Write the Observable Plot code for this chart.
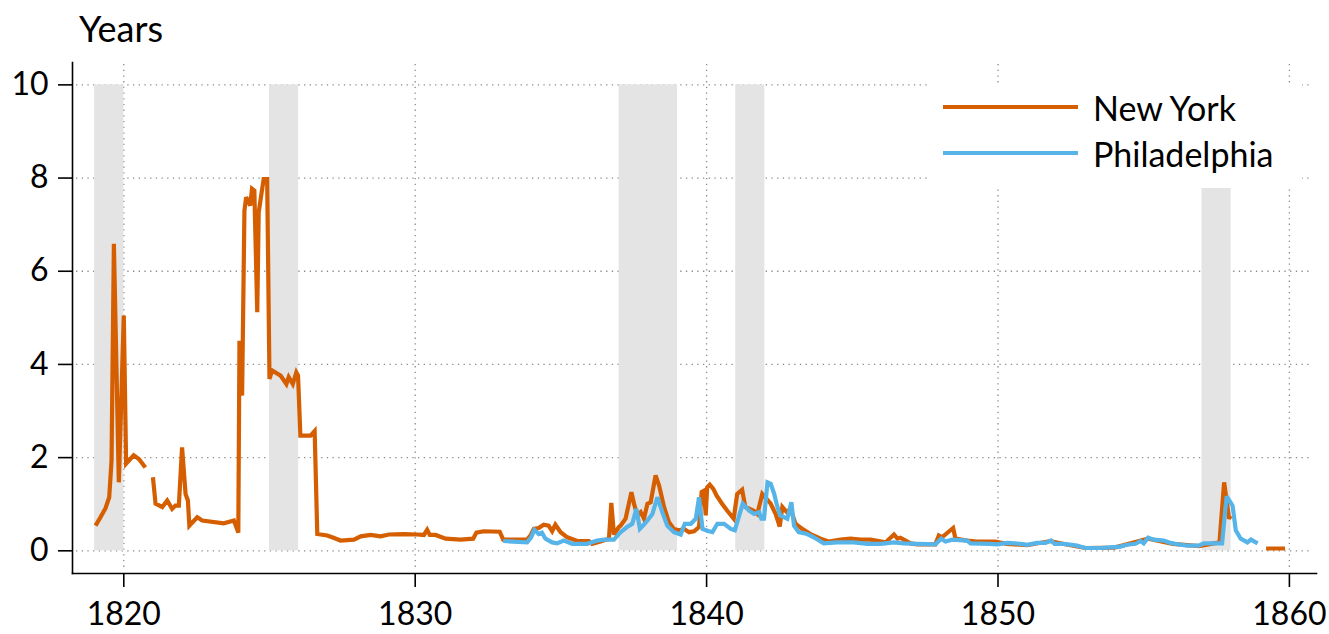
<!DOCTYPE html>
<html>
<head>
<meta charset="utf-8">
<script src="https://cdn.jsdelivr.net/npm/d3@7"></script>
<script src="https://cdn.jsdelivr.net/npm/@observablehq/plot@0.6"></script>
<style>
  html, body { margin: 0; padding: 0; background: #fff; }
  #wrap { position: relative; width: 1329px; height: 634px; font-family: Lato, "DejaVu Sans", sans-serif; color: #000; }
  #title { position: absolute; left: 79px; top: 7px; font-size: 36px; line-height: 42px; }
  #legend { position: absolute; left: 928px; top: 84px; width: 374px; height: 104px; background: #fff; }
  .row { position: absolute; left: 15px; height: 40px; display: flex; align-items: center; font-size: 34px; }
  .sw { width: 135px; height: 4px; margin-right: 15px; }
</style>
</head>
<body>
<div id="wrap">
  <div id="chart"></div>
  <div id="title">Years</div>
  <div id="legend"></div>
</div>
<script>
// ---- data ----
const seriesNames = ["New York", "Philadelphia"];
const seriesColors = ["#D55E00", "#56B4E9"];

const nyYear = [
  1819.03, 1819.2, 1819.37, 1819.5, 1819.58, 1819.66, 1819.83, 1820.0, 1820.08, 1820.34, 1820.52, 1820.74,
  1820.87,
  1821.0, 1821.09, 1821.32, 1821.49, 1821.66, 1821.77, 1821.89, 1822.0, 1822.12, 1822.2, 1822.25, 1822.52,
  1822.69, 1823.43, 1823.78, 1823.93, 1823.97, 1824.06, 1824.14, 1824.2, 1824.34, 1824.4, 1824.48, 1824.58,
  1824.63, 1824.8, 1824.92, 1825.0, 1825.09, 1825.38, 1825.58, 1825.66, 1825.8, 1825.92, 1825.98, 1826.06,
  1826.41, 1826.55, 1826.64, 1826.98, 1827.15, 1827.44, 1827.9, 1828.13, 1828.47, 1828.81, 1829.1, 1829.61,
  1830.07, 1830.3, 1830.41, 1830.5, 1830.7, 1831.04, 1831.56, 1831.99, 1832.1, 1832.35, 1832.9, 1833.02,
  1833.84, 1833.96, 1834.07, 1834.24, 1834.41, 1834.58, 1834.7, 1834.81, 1834.99, 1835.22, 1835.56, 1835.96,
  1836.07, 1836.36, 1836.65, 1836.73, 1836.82, 1836.99, 1837.05, 1837.22, 1837.42, 1837.51, 1837.62, 1837.74,
  1837.85, 1837.97, 1838.08, 1838.25, 1838.37, 1838.54, 1838.71, 1838.88, 1839.06, 1839.23, 1839.4, 1839.57,
  1839.74, 1839.83, 1839.91, 1839.97, 1840.02, 1840.11, 1840.23, 1840.34, 1840.53, 1840.71, 1840.93, 1841.05,
  1841.22, 1841.33, 1841.62, 1841.74, 1841.91, 1842.2, 1842.37, 1842.51, 1842.6, 1842.75, 1842.88, 1843.05,
  1843.28, 1843.57, 1843.91, 1844.19, 1844.6, 1844.94, 1845.28, 1845.63, 1846.14, 1846.43, 1846.55, 1846.65,
  1847.0, 1847.23, 1847.85, 1847.97, 1848.08, 1848.46, 1848.54, 1848.94, 1849.28, 1849.9,
  1850.3, 1851.0, 1851.8, 1852.3, 1853.0, 1854.0, 1855.15, 1856.0, 1856.9, 1857.41, 1857.6, 1857.76, 1857.93, 1857.98,
  1858.6,
  1859.2, 1859.85
];
const nyValue = [
  0.54, 0.72, 0.91, 1.15, 1.94, 6.59, 1.47, 5.05, 1.87, 2.05, 1.97, 1.79,
  null,
  1.58, 1.01, 0.94, 1.08, 0.90, 0.97, 0.97, 2.22, 1.22, 1.08, 0.54, 0.72,
  0.65, 0.59, 0.65, 0.39, 4.51, 3.33, 7.30, 7.59, 7.41, 7.77, 7.73, 5.12,
  7.27, 7.98, 7.98, 3.69, 3.87, 3.76, 3.58, 3.73, 3.58, 3.83, 3.76, 2.47,
  2.47, 2.57, 0.36, 0.33, 0.29, 0.22, 0.24, 0.31, 0.34, 0.31, 0.35, 0.36,
  0.35, 0.34, 0.45, 0.34, 0.34, 0.26, 0.24, 0.26, 0.39, 0.42, 0.41, 0.24,
  0.24, 0.33, 0.47, 0.49, 0.56, 0.54, 0.42, 0.56, 0.40, 0.29, 0.21, 0.21,
  0.15, 0.20, 0.26, 1.03, 0.35, 0.51, 0.54, 0.69, 1.26, 1.01, 0.76, 0.83,
  0.69, 1.01, 1.04, 1.62, 1.40, 0.94, 0.61, 0.47, 0.44, 0.47, 0.40, 0.42,
  0.51, 1.26, 1.29, 0.76, 1.36, 1.42, 1.33, 1.19, 1.01, 0.86, 0.69, 1.22,
  1.31, 0.94, 0.86, 0.79, 1.22, 1.01, 0.79, 0.52, 0.94, 0.83, 0.90, 0.58,
  0.47, 0.36, 0.26, 0.20, 0.24, 0.26, 0.24, 0.24, 0.18, 0.35, 0.26, 0.28,
  0.16, 0.14, 0.14, 0.33, 0.29, 0.49, 0.26, 0.22, 0.20, 0.20,
  0.15, 0.12, 0.21, 0.14, 0.06, 0.07, 0.26, 0.15, 0.10, 0.16, 0.18, 1.47, 0.69, 0.75,
  null,
  0.05, 0.05
];

const phYear = [
  1833.02, 1833.84, 1833.98, 1834.09, 1834.24, 1834.35, 1834.47, 1834.7, 1834.87, 1835.1, 1835.39, 1835.9,
  1836.25, 1836.48, 1836.82, 1837.05, 1837.27, 1837.45, 1837.59, 1837.71, 1837.82, 1837.97, 1838.14, 1838.31,
  1838.48, 1838.65, 1838.88, 1839.11, 1839.25, 1839.46, 1839.63, 1839.74, 1839.86, 1840.08, 1840.2, 1840.37,
  1840.6, 1840.83, 1840.97, 1841.12, 1841.24, 1841.46, 1841.63, 1841.8, 1841.88, 1841.97, 1842.09, 1842.2,
  1842.32, 1842.43, 1842.53, 1842.77, 1842.91, 1843.0, 1843.16, 1843.45, 1843.68, 1844.02, 1844.48, 1845.05,
  1845.51, 1845.97, 1846.43, 1846.77, 1847.23, 1847.85, 1848.05, 1848.2, 1848.43, 1848.94, 1849.06, 1849.74,
  1849.98, 1850.32, 1850.77, 1851.0, 1851.34, 1851.63, 1851.82, 1851.94, 1852.26, 1852.71, 1853.0, 1853.52,
  1853.97, 1854.2, 1854.43, 1854.72, 1854.89, 1855.0, 1855.15, 1855.35, 1855.69, 1855.92, 1856.15, 1856.49,
  1856.89, 1857.06, 1857.41, 1857.69, 1857.81, 1857.85, 1858.05, 1858.16, 1858.33, 1858.56, 1858.68, 1858.91
];
const phValue = [
  0.21, 0.18, 0.29, 0.45, 0.36, 0.39, 0.26, 0.18, 0.16, 0.22, 0.15, 0.15,
  0.22, 0.24, 0.24, 0.40, 0.51, 0.58, 0.90, 0.47, 0.54, 0.65, 0.79, 1.15,
  0.83, 0.54, 0.40, 0.35, 0.58, 0.58, 0.69, 1.15, 0.47, 0.42, 0.40, 0.58,
  0.58, 0.47, 0.44, 0.76, 1.01, 0.86, 0.79, 0.83, 0.69, 0.69, 1.47, 1.44,
  1.22, 0.94, 0.76, 0.69, 1.04, 0.54, 0.40, 0.36, 0.29, 0.16, 0.18, 0.18,
  0.15, 0.15, 0.18, 0.16, 0.15, 0.14, 0.26, 0.20, 0.24, 0.22, 0.16, 0.15,
  0.14, 0.17, 0.15, 0.13, 0.17, 0.17, 0.22, 0.15, 0.15, 0.11, 0.06, 0.06,
  0.08, 0.09, 0.13, 0.15, 0.21, 0.16, 0.28, 0.24, 0.22, 0.17, 0.14, 0.11,
  0.11, 0.16, 0.16, 0.16, 0.94, 1.17, 0.97, 0.44, 0.26, 0.18, 0.24, 0.16
];

const recessionStart = [1819, 1825, 1837, 1841, 1857];
const recessionEnd   = [1820, 1826, 1839, 1842, 1858];
const recessionTop = 10;

const xTicks = [1820, 1830, 1840, 1850, 1860];
const yTicks = [0, 2, 4, 6, 8, 10];

// ---- build tables ----
const ny = nyYear.map((x, i) => ({x, y: nyValue[i]}));
const ph = phYear.map((x, i) => ({x, y: phValue[i]}));
const rec = recessionStart.map((s, i) => ({s, e: recessionEnd[i]}));

const chart = Plot.plot({
  width: 1329,
  height: 634,
  marginLeft: 72,
  marginRight: 13,
  marginTop: 62,
  marginBottom: 61,
  x: {domain: [1818.24, 1860.93]},
  y: {domain: [-0.487, 10.48]},
  style: {fontFamily: "Lato, 'DejaVu Sans', sans-serif", fontSize: "32px", color: "#000", background: "#fff"},
  marks: [
    Plot.gridY(yTicks, {stroke: "#8a8a8a", strokeOpacity: 1, strokeWidth: 1.3, strokeDasharray: "1.3,4.4", insetLeft: 4, insetRight: 5}),
    Plot.gridX(xTicks, {stroke: "#8a8a8a", strokeOpacity: 1, strokeWidth: 1.3, strokeDasharray: "1.3,4.4", insetTop: 2, insetBottom: 3}),
    Plot.rectY(rec, {x1: "s", x2: "e", y1: 0, y2: recessionTop, fill: "#e4e4e4"}),
    Plot.line(ny, {x: "x", y: "y", stroke: seriesColors[0], strokeWidth: 4.2, strokeLinejoin: "miter", strokeMiterlimit: 3, strokeLinecap: "butt"}),
    Plot.line(ph, {x: "x", y: "y", stroke: seriesColors[1], strokeWidth: 4.2, strokeLinejoin: "miter", strokeMiterlimit: 3, strokeLinecap: "butt"}),
    Plot.frame({anchor: "left", strokeWidth: 1.6}),
    Plot.frame({anchor: "bottom", strokeWidth: 1.6}),
    Plot.axisX(xTicks, {tickSize: 14, tickPadding: 15, tickFormat: d => String(d), label: null, fontSize: 32, strokeWidth: 1.6}),
    Plot.axisY(yTicks, {tickSize: 14, tickPadding: 10, tickFormat: d => String(d), label: null, fontSize: 32, strokeWidth: 1.6})
  ]
});
document.getElementById("chart").appendChild(chart);

// legend
const legend = document.getElementById("legend");
seriesNames.forEach((name, i) => {
  const row = document.createElement("div");
  row.className = "row";
  row.style.top = (3 + i * 46) + "px";
  const sw = document.createElement("div");
  sw.className = "sw";
  sw.style.background = seriesColors[i];
  const t = document.createElement("span");
  t.textContent = name;
  row.appendChild(sw);
  row.appendChild(t);
  legend.appendChild(row);
});
</script>
</body>
</html>
